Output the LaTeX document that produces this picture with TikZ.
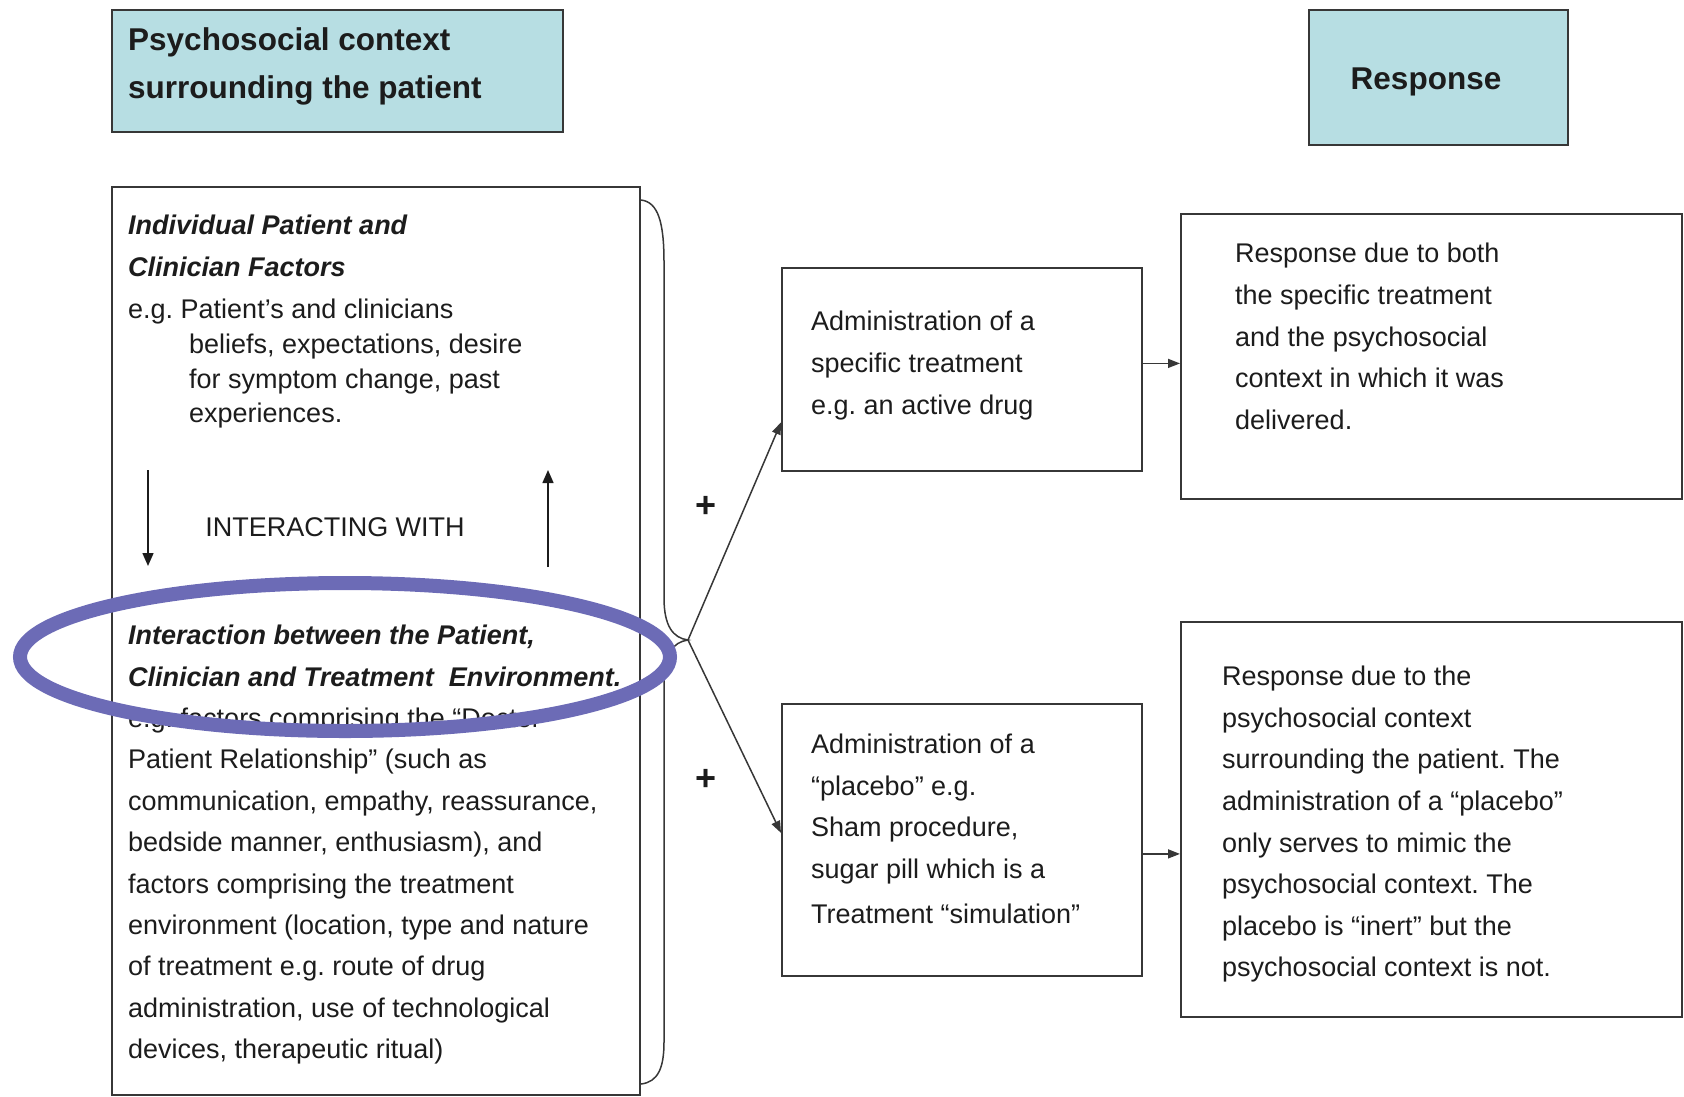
\documentclass[tikz,border=0pt]{standalone}
\usepackage{fontspec}
\setmainfont{Liberation Sans}
\usetikzlibrary{arrows.meta}
\definecolor{boxfill}{RGB}{183,222,227}
\definecolor{edge}{RGB}{55,55,55}
\definecolor{ink}{RGB}{28,28,28}
\definecolor{ring}{RGB}{108,107,182}
\frenchspacing
\begin{document}
\begin{tikzpicture}[x=1pt,y=-1pt,
  box/.style={draw=edge, line width=1.8pt, inner sep=0pt, anchor=north west},
  headbox/.style={box, fill=boxfill},
  body/.style={text=ink, inner sep=0pt, anchor=north west, align=left},
  txt/.style={font=\fontsize{27}{#1}\selectfont},
  bitxt/.style={font=\fontsize{27}{#1}\selectfont\bfseries\itshape},
  head/.style={font=\fontsize{31.5}{48}\selectfont\bfseries},
  conn/.style={draw=edge, line width=1.5pt, -{Triangle[length=12pt,width=9pt]}},
  vconn/.style={draw=ink, line width=1.5pt, -{Triangle[length=13pt,width=11pt]}},
  plus/.style={text=ink, inner sep=0pt, font=\fontsize{36}{36}\selectfont\bfseries}
]
\useasboundingbox (0,0) rectangle (1684,1096);

% header boxes
\node[headbox, minimum width=451pt, minimum height=122pt] (ctxbox) at (111,9) {};
\node[body, head] (ctxtitle) at (128,27) {Psychosocial context\\surrounding the patient};
\node[headbox, minimum width=259pt, minimum height=135pt] (respbox) at (1308,9) {};
\node[text=ink, inner sep=0pt, head] (resptitle) at (1426,82) {Response};

% psychosocial factors column
\node[box, minimum width=528pt, minimum height=908pt] (factors) at (111,186) {};
\node[body, bitxt=42] (indiv) at (128,215)
  {Individual Patient and\\Clinician Factors};
\node[body, txt=34.5] (eg1) at (128,299) {e.g. Patient’s and clinicians};
\node[body, txt=34.5] (eg2) at (189,334)
  {beliefs, expectations, desire\\for symptom change, past\\experiences.};
\node[text=ink, inner sep=0pt, txt=30] (interact) at (335,527) {INTERACTING WITH};
\coordinate (dn1) at (148,470);
\coordinate (dn2) at (148,566);
\coordinate (up1) at (548,567);
\coordinate (up2) at (548,470);
\draw[vconn] (dn1) -- (dn2);
\draw[vconn] (up1) -- (up2);
\node[body, txt=41.4] (inter) at (128,625)
  {{\bfseries\itshape Interaction between the Patient,}\\
   {\bfseries\itshape Clinician and Treatment\ \ Environment.}\\
   e.g. factors comprising the “Doctor-\\
   Patient Relationship” (such as\\
   communication, empathy, reassurance,\\
   bedside manner, enthusiasm), and\\
   factors comprising the treatment\\
   environment (location, type and nature\\
   of treatment e.g. route of drug\\
   administration, use of technological\\
   devices, therapeutic ritual)};

% brace gathering the factors
\coordinate (tip) at (688,640);
\draw[edge, line width=1.5pt]
  (641,200) .. controls (658,202) and (664,222) .. (664,262)
  -- (664,598) .. controls (664,626) and (673,638) .. (tip)
  .. controls (673,642) and (664,654) .. (664,682)
  -- (664,1042) .. controls (664,1068) and (658,1082) .. (641,1084);

% treatment boxes
\node[box, minimum width=360pt, minimum height=203pt] (active) at (781,267) {};
\node[body, txt=42] (activetxt) at (811,311)
  {Administration of a\\specific treatment\\e.g. an active drug};
\node[box, minimum width=360pt, minimum height=272pt] (placebo) at (781,703) {};
\node[body, txt=41.5] (placebotxt) at (811,734)
  {Administration of a\\“placebo” e.g.\\Sham procedure,\\sugar pill which is a\\[4pt]Treatment “simulation”};

% response boxes
\node[box, minimum width=501pt, minimum height=285pt] (bothresp) at (1180,213) {};
\node[body, txt=41.7] (bothtxt) at (1235,243)
  {Response due to both\\the specific treatment\\and the psychosocial\\context in which it was\\delivered.};
\node[box, minimum width=501pt, minimum height=395pt] (ctxresp) at (1180,621) {};
\node[body, txt=41.6] (ctxtxt) at (1222,666)
  {Response due to the\\psychosocial context\\surrounding the patient. The\\administration of a “placebo”\\only serves to mimic the\\psychosocial context. The\\placebo is “inert” but the\\psychosocial context is not.};

% connectors
\draw[conn] (tip) -- ([yshift=-53pt]active.west);
\draw[conn] (tip) -- ([yshift=7pt]placebo.west);
\draw[conn] ([yshift=6pt]active.east) -- ([yshift=6pt]active.east -| bothresp.west);
\draw[conn] ([yshift=-14pt]placebo.east) -- ([yshift=-14pt]placebo.east -| ctxresp.west);
\node[plus] (plusa) at (706,507) {+};
\node[plus] (plusb) at (706,780) {+};

% highlight ring
\draw[ring, line width=14pt] (345,657) ellipse [x radius=325, y radius=74];
\end{tikzpicture}
\end{document}
